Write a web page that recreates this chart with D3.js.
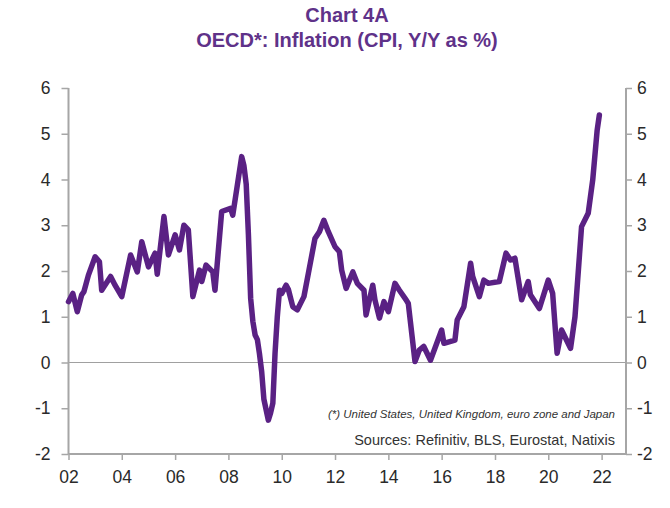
<!DOCTYPE html>
<html><head><meta charset="utf-8">
<script src="https://cdn.jsdelivr.net/npm/d3@7"></script>
<style>body{margin:0;background:#fff}svg{display:block}</style>
</head><body>
<svg id="c" width="670" height="508"></svg>
<script>
// Monthly readings (YYYY-MM) and OECD* CPI inflation Y/Y %
const months = ["2002-01","2002-03","2002-05","2002-07","2002-08","2002-10","2003-01","2003-03","2003-04","2003-08","2003-10","2004-01","2004-05","2004-08","2004-10","2005-01","2005-04","2005-05","2005-08","2005-10","2006-01","2006-03","2006-05","2006-07","2006-09","2006-12","2007-01","2007-03","2007-06","2007-07","2007-10","2008-02","2008-03","2008-07","2008-08","2008-09","2008-10","2008-11","2008-12","2009-01","2009-02","2009-03","2009-04","2009-05","2009-07","2009-08","2009-09","2009-10","2009-11","2009-12","2010-01","2010-03","2010-04","2010-06","2010-08","2010-11","2011-01","2011-04","2011-06","2011-08","2011-10","2012-01","2012-03","2012-04","2012-06","2012-09","2012-11","2013-02","2013-03","2013-06","2013-07","2013-09","2013-11","2014-01","2014-04","2014-06","2014-09","2014-10","2015-01","2015-03","2015-05","2015-08","2016-01","2016-02","2016-07","2016-08","2016-11","2017-02","2017-03","2017-06","2017-08","2017-10","2018-03","2018-06","2018-08","2018-10","2019-01","2019-04","2019-05","2019-09","2020-01","2020-03","2020-05","2020-07","2020-11","2021-01","2021-04","2021-07","2021-09","2021-11","2021-12"];
const inflation = [1.33,1.51,1.11,1.48,1.55,1.91,2.31,2.20,1.58,1.88,1.69,1.44,2.35,1.98,2.64,2.09,2.39,1.93,3.19,2.35,2.79,2.46,3.00,2.90,1.44,2.02,1.77,2.13,1.98,1.58,3.30,3.37,3.22,4.50,4.30,3.90,2.80,1.40,0.90,0.60,0.50,0.20,-0.20,-0.80,-1.26,-1.10,-0.89,0.20,1.00,1.58,1.51,1.69,1.60,1.22,1.15,1.44,1.95,2.71,2.86,3.11,2.86,2.53,2.42,2.02,1.62,1.98,1.73,1.58,1.04,1.69,1.37,0.97,1.33,1.11,1.73,1.58,1.37,1.29,0.02,0.27,0.35,0.05,0.71,0.42,0.49,0.93,1.22,2.17,1.88,1.44,1.80,1.73,1.77,2.39,2.24,2.28,1.37,1.77,1.48,1.18,1.80,1.51,0.20,0.71,0.31,1.00,2.97,3.26,3.99,5.08,5.41];
const yTicks = [-2,-1,0,1,2,3,4,5,6];
const xTickYears = [2002,2004,2006,2008,2010,2012,2014,2016,2018,2020,2022];
const xTickLabels = ["02","04","06","08","10","12","14","16","18","20","22"];
const titleLines = ["Chart 4A","OECD*: Inflation (CPI, Y/Y as %)"];
const footnote = "(*) United States, United Kingdom, euro zone and Japan";
const sources = "Sources: Refinitiv, BLS, Eurostat, Natixis";

const parse = d3.timeParse("%Y-%m");
const data = months.map((m,i)=>({date:parse(m), v:inflation[i]}));

const svg = d3.select("#c");
const L = 68.5, R = 626, T = 88, B = 454;
const x = d3.scaleTime().domain([new Date(2002,0,1), new Date(2022,11,1)]).range([L,R]);
const y = d3.scaleLinear().domain([-2,6]).range([B,T]);
const axisColor = "#a6a6a6";
const font = "'Liberation Sans', Arial, sans-serif";

// Title
svg.selectAll("text.title").data(titleLines).enter().append("text")
  .attr("x",347).attr("y",(d,i)=>22+i*25)
  .attr("text-anchor","middle").attr("font-family",font).attr("font-weight","bold")
  .attr("font-size",20).attr("fill","#5f3289").text(d=>d);

// zero line
svg.append("line").attr("x1",L).attr("x2",R).attr("y1",y(0)).attr("y2",y(0))
  .attr("stroke","#a0a0a0").attr("stroke-width",1.2);

const fmt = d => String(d);
// left axis
const left = svg.append("g").attr("transform",`translate(${L},0)`)
  .call(d3.axisLeft(y).tickValues(yTicks).tickSize(7).tickPadding(11).tickFormat(fmt));
// right axis
const right = svg.append("g").attr("transform",`translate(${R},0)`)
  .call(d3.axisRight(y).tickValues(yTicks).tickSize(6).tickPadding(5).tickFormat(fmt));
// bottom axis
const bottom = svg.append("g").attr("transform",`translate(0,${B})`)
  .call(d3.axisBottom(x).tickValues(xTickYears.map(yy=>new Date(yy,0,1))).tickSize(6).tickPadding(11)
    .tickFormat((d,i)=>xTickLabels[i]));

[left,right,bottom].forEach(g=>{
  g.select(".domain").attr("stroke",axisColor).attr("stroke-width",2);
  g.selectAll(".tick line").attr("stroke",axisColor).attr("stroke-width",1.5);
  g.selectAll(".tick text").attr("font-family",font).attr("font-size",17.5).attr("fill","#2a2a2a");
});
left.select(".domain").attr("d",`M0,${B}V${T}`);
right.select(".domain").attr("d",`M0,${B}V${T}`);
bottom.select(".domain").attr("d",`M${L},0H${R}`);

// line
svg.append("path").datum(data)
  .attr("fill","none").attr("stroke","#5a2184").attr("stroke-width",5.5)
  .attr("stroke-linejoin","round").attr("stroke-linecap","round")
  .attr("d",d3.line().x(d=>x(d.date)).y(d=>y(d.v)));

// notes
svg.append("text").attr("x",615).attr("y",418).attr("text-anchor","end")
  .attr("font-family",font).attr("font-style","italic").attr("font-size",11.5)
  .attr("fill","#333").text(footnote);
svg.append("text").attr("x",615).attr("y",445).attr("text-anchor","end")
  .attr("font-family",font).attr("font-size",14.5)
  .attr("fill","#333").text(sources);
</script>
</body></html>
